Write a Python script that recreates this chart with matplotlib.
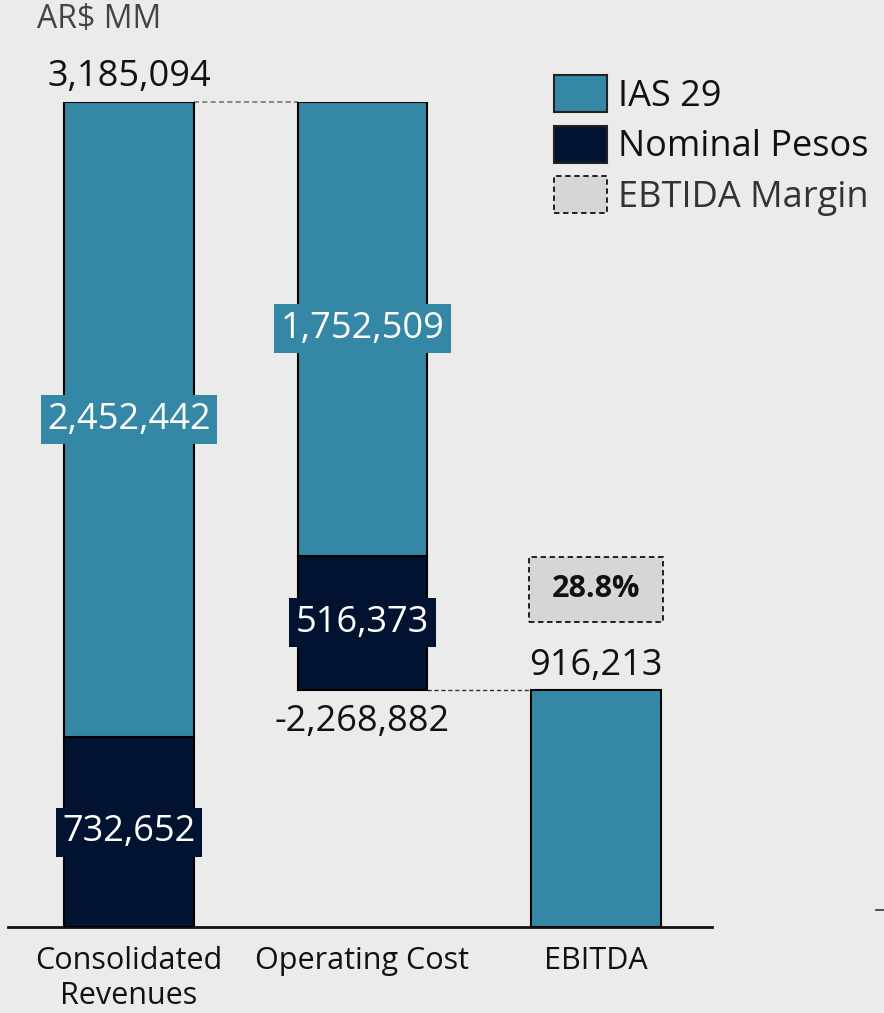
import numpy as np
import matplotlib.pyplot as plt
from matplotlib.patches import Patch, Rectangle
from matplotlib.lines import Line2D

plt.rcParams['font.family'] = ['Open Sans', 'DejaVu Sans']

categories = ["Consolidated\nRevenues", "Operating Cost", "EBITDA"]
ias29 = [2452442, 1752509, 916213]
nominal = [732652, 516373, 0]
totals = [3185094, -2268882, 916213]
margin_label = "28.8%"

teal = "#3488a5"
navy = "#021231"
bg = "#ebebeb"

fig = plt.figure(figsize=(8.84, 10.13), dpi=100, facecolor=bg)
W, H = 884, 1013
ax = fig.add_axes([8 / W, (H - 927) / H, (712 - 8) / W, (927 - 102) / H])
ax.set_facecolor(bg)

x = np.arange(len(categories))
width = 130 / 234

# revenues: nominal at bottom, ias29 on top
rev_top = totals[0]
ebitda = totals[2]
# operating cost floats from revenues top down to ebitda level
op_bottom = rev_top + totals[1]

bottoms_nom = [0, op_bottom, 0]
bottoms_ias = [nominal[0], op_bottom + nominal[1], 0]

ax.bar(x[:2], nominal[:2], width, bottom=bottoms_nom[:2], color=navy,
       edgecolor="black", linewidth=1.5, zorder=3)
ax.bar(x, ias29, width, bottom=bottoms_ias, color=teal,
       edgecolor="black", linewidth=1.5, zorder=3)

ax.set_xlim(-121 / 234, 2 + 116 / 234)
ax.set_ylim(0, rev_top)

# connectors
ax.plot([x[0] + width / 2, x[1] - width / 2], [rev_top, rev_top],
        ls=(0, (3, 2)), color="#777777", lw=1.2, zorder=2, clip_on=False)
ax.plot([x[1] + width / 2, x[2] - width / 2], [ebitda, ebitda],
        ls=(0, (3, 2)), color="#333333", lw=1.0, zorder=2, clip_on=False)

fs = 26
# inner labels
def inner(xx, yy, val, col):
    ax.text(xx, yy, f"{val:,}", ha="center", va="center", color="white",
            fontsize=fs, zorder=5,
            bbox=dict(boxstyle="square,pad=0.18", fc=col, ec="none"))

inner(x[0], nominal[0] + ias29[0] / 2, ias29[0], teal)
inner(x[0], nominal[0] / 2, nominal[0], navy)
inner(x[1], op_bottom + nominal[1] + ias29[1] / 2, ias29[1], teal)
inner(x[1], op_bottom + nominal[1] / 2, nominal[1], navy)

ax.annotate(f"{totals[0]:,}", (x[0], rev_top), xytext=(0, 5),
            textcoords="offset points", ha="center", va="bottom",
            fontsize=fs, color="#111111", annotation_clip=False)
ax.annotate(f"{totals[1]:,}", (x[1], op_bottom), xytext=(0, -10),
            textcoords="offset points", ha="center", va="top",
            fontsize=fs, color="#111111", annotation_clip=False)
ax.annotate(f"{totals[2]:,}", (x[2], ebitda), xytext=(0, 4),
            textcoords="offset points", ha="center", va="bottom",
            fontsize=fs, color="#111111", annotation_clip=False)

# margin box
px = rev_top / 825
box_bottom = ebitda + 68 * px
box_h = 65 * px
ax.add_patch(Rectangle((x[2] - 67 / 234, box_bottom), 134 / 234, box_h,
                       facecolor="#d6d6d6", edgecolor="#111111",
                       ls=(0, (3, 2)), lw=1.3, zorder=4, clip_on=False))
ax.text(x[2], box_bottom + box_h / 2, margin_label, ha="center", va="center",
        fontsize=22, fontweight="bold", color="#111111", zorder=5)

# axes styling
for s in ["top", "right", "left"]:
    ax.spines[s].set_visible(False)
ax.spines["bottom"].set_linewidth(2)
ax.spines["bottom"].set_color("#111111")
ax.set_yticks([])
ax.set_xticks(x)
ax.set_xticklabels(categories, fontsize=22, color="#111111", linespacing=1.2)
ax.tick_params(axis="x", length=0, pad=14)

fig.text(37 / W, 1 - 20 / H, "AR$ MM", fontsize=23, color="#444444",
         ha="left", va="center")

handles = [
    Patch(facecolor=teal, edgecolor="#222222", lw=1.5, label="IAS 29"),
    Patch(facecolor=navy, edgecolor="#222222", lw=1.5, label="Nominal Pesos"),
    Patch(facecolor="#d6d6d6", edgecolor="#111111", lw=1.3, ls=(0, (3, 2)),
          label="EBTIDA Margin"),
]
leg = fig.legend(handles=handles, loc="upper left",
                 bbox_to_anchor=(547 / W, 1 - 68 / H), frameon=False,
                 fontsize=fs, handlelength=1.47, handleheight=1.2,
                 handletextpad=0.3, labelspacing=0.3, borderpad=0.2,
                 borderaxespad=0)
for t, c in zip(leg.get_texts(), ["#111111", "#111111", "#333333"]):
    t.set_color(c)

fig.add_artist(Line2D([876 / W, 884 / W], [1 - 910 / H, 1 - 910 / H],
                      color="#333333", lw=1.2))

fig.savefig("out.png", dpi=100, facecolor=bg)
